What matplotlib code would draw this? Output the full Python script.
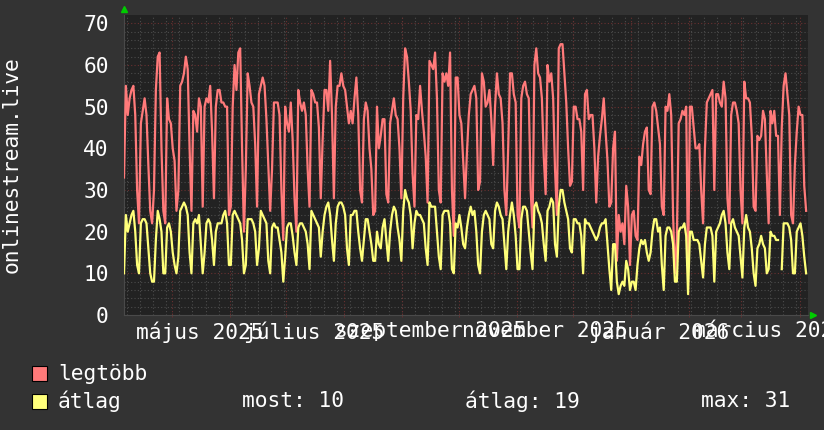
import numpy as np
import matplotlib
matplotlib.use("Agg")
import matplotlib.pyplot as plt
import matplotlib.dates as mdates
from datetime import datetime, timedelta

# daily values (first day 2025-04-05)
legtobb = [
    33, 55, 48, 52, 54, 55, 48, 30, 22, 46, 49, 52, 48, 36, 25, 22, 30, 54, 62, 63,
    40, 25, 22, 52, 47, 46, 40, 37, 25, 30, 55, 56, 58, 62, 59, 40, 25, 49, 48, 44,
    52, 50, 26, 50, 52, 51, 55, 44, 28, 50, 54,
    54, 51, 51, 50, 50, 24, 26, 50, 60, 54, 63, 64, 40, 20, 35, 58, 55, 51, 50, 41,
    26, 53, 55, 57, 55, 47, 36, 25, 35, 51, 51, 51, 48, 30, 18, 50, 46, 44, 51, 42,
    28, 20, 54, 51, 49, 51, 48, 35, 26, 54, 53, 51,
    51, 45, 28, 42, 54, 54, 49, 61, 48, 28, 50, 55, 55, 58, 55, 54, 50, 46, 49, 46,
    52, 57, 48, 30, 27, 47, 51, 49, 40, 35, 24, 25, 50, 40, 43, 47, 47, 29, 27, 46,
    49, 52, 48, 47, 40, 28, 52, 64, 62, 56, 49, 34,
    26, 48, 47, 55, 49, 44, 38, 27, 61, 60, 59, 63, 52, 30, 27, 58, 56, 58, 55, 63,
    30, 19, 57, 57, 48, 46, 37, 28, 39, 48, 53, 54, 55, 52, 30, 32, 58, 56, 50, 51,
    54, 47, 36, 50, 58, 53, 52, 46, 30, 24, 40, 58,
    58, 53, 51, 24, 21, 52, 55, 56, 53, 52, 30, 21, 60, 64, 58, 57, 52, 38, 29, 60,
    56, 58, 52, 35, 24, 64, 65, 65, 58, 51, 40, 31, 32, 50, 50, 47, 47, 44, 30, 53,
    54, 47, 48, 48, 40, 27, 38, 43, 47, 52, 44, 37, 26,
    27, 40, 44, 13, 24, 20, 22, 17, 31, 26, 12, 24, 25, 19, 18, 38, 36, 41, 44, 45,
    30, 29, 50, 51, 49, 45, 41, 26, 24, 50, 49, 53, 48, 24, 10, 18, 46, 47, 49, 48,
    50, 11, 50, 50, 45, 40, 40, 41, 30, 22, 40, 51,
    52, 53, 54, 30, 53, 53, 51, 50, 56, 52, 28, 22, 48, 51, 51, 49, 46, 30, 22, 56,
    52, 52, 51, 43, 26, 25, 43, 42, 43, 49, 47, 34, 22, 49, 46, 49, 43, 43, 24, 45,
    55, 58, 53, 48, 24, 22, 36, 44, 50, 48, 48, 31, 25,
]
atlag = [
    10, 24, 20, 22, 24, 25, 20, 12, 10, 22, 23, 23, 22, 16, 10, 8, 8, 18, 25, 23,
    20, 10, 10, 21, 22, 20, 15, 12, 10, 14, 25, 26, 27, 26, 24, 15, 10, 22, 23, 22,
    24, 17, 10, 15, 22, 23, 22, 18, 12, 20, 22,
    22, 22, 24, 25, 22, 12, 12, 24, 25, 24, 23, 22, 18, 10, 12, 23, 23, 23, 22, 20,
    12, 16, 25, 24, 23, 22, 13, 10, 21, 22, 21, 21, 18, 15, 8, 14, 21, 22, 22, 19,
    15, 12, 21, 22, 22, 21, 20, 17, 11, 25, 24, 23,
    22, 21, 14, 20, 24, 26, 27, 24, 18, 13, 22, 26, 27, 27, 26, 24, 16, 12, 24, 24,
    25, 25, 20, 16, 13, 18, 23, 23, 20, 17, 13, 13, 20, 17, 16, 21, 23, 18, 13, 20,
    24, 26, 25, 21, 18, 13, 25, 30, 28, 27, 24, 16,
    22, 25, 24, 24, 23, 22, 16, 12, 27, 26, 26, 26, 20, 14, 11, 24, 25, 25, 25, 22,
    11, 10, 22, 21, 24, 21, 17, 16, 21, 24, 26, 24, 25, 20, 12, 10, 20, 24, 25, 24,
    23, 17, 16, 25, 27, 26, 24, 23, 17, 11, 20, 24,
    27, 24, 19, 11, 11, 23, 26, 26, 25, 20, 15, 11, 26, 27, 25, 24, 22, 17, 13, 25,
    26, 28, 27, 17, 14, 26, 30, 30, 27, 25, 23, 16, 15, 23, 23, 22, 22, 19, 10, 23,
    22, 22, 21, 20, 19, 18, 19, 21, 22, 22, 23, 17, 11,
    6, 17, 17, 8, 5, 7, 8, 7, 13, 11, 6, 8, 8, 6, 12, 16, 18, 17, 18, 15,
    13, 15, 20, 23, 23, 20, 21, 12, 6, 19, 21, 21, 20, 17, 8, 8, 20, 21, 21, 22,
    19, 5, 20, 20, 18, 18, 18, 17, 13, 9, 17, 21,
    21, 21, 19, 8, 20, 21, 22, 24, 25, 22, 15, 11, 22, 23, 21, 20, 19, 14, 9, 21,
    24, 21, 20, 16, 10, 7, 16, 17, 19, 17, 16, 10, 11, 20, 19, 19, 18, 18, np.nan, 11,
    22, 22, 22, 21, 18, 10, 10, 20, 21, 22, 19, 14, 10,
]
x_labels = ["május 2025", "július 2025", "szeptember 2025",
            "november 2025", "január 2026", "március 2026"]
label_months = [(2025, 5), (2025, 7), (2025, 9), (2025, 11), (2026, 1), (2026, 3)]
most, atlag_avg, atlag_max = 10, 19, 31

start = datetime(2025, 4, 5, 12)
end = start + timedelta(days=365)
days = [start + timedelta(days=i) for i in range(len(legtobb))]

W, H = 824, 430
bg = "#333333"
font = "DejaVu Sans Mono"
fs = 15.3
red = "#ff7a7a"
yellow = "#ffff7a"

fig = plt.figure(figsize=(W / 100, H / 100), dpi=100, facecolor=bg)
ax = fig.add_axes([124 / W, 1 - 315 / H, 684 / W, 300 / H])
ax.set_facecolor("#222222")
ax.set_xlim(start, end)
ax.set_ylim(0, 72)

# grid: weeks / months, 2 and 10 units
minor_c, major_c = "#4c4c4c", "#6a3030"
wk = datetime(2025, 4, 7)
while wk < end:
    ax.axvline(wk, color=minor_c, ls=(0, (1, 2)), lw=0.8, zorder=1)
    wk += timedelta(days=7)
month_starts = []
y, m = 2025, 5
while datetime(y, m, 1) < end:
    month_starts.append(datetime(y, m, 1))
    m += 1
    if m > 12:
        y, m = y + 1, 1
for ms in month_starts:
    ax.axvline(ms, color=major_c, ls=(0, (1, 2)), lw=0.8, zorder=1.5)
for v in range(2, 72, 2):
    c = major_c if v % 10 == 0 else minor_c
    ax.axhline(v, color=c, ls=(0, (1, 2)), lw=0.8, zorder=1)

ax.plot(days, legtobb, color=red, lw=1.6, zorder=3)
ax.plot(days, atlag, color=yellow, lw=1.6, zorder=4)

for s in ["top", "right"]:
    ax.spines[s].set_visible(False)
for s in ["left", "bottom"]:
    ax.spines[s].set_color("#4a4a4a")

ax.set_yticks(range(0, 71, 10))
ax.tick_params(axis="y", length=0, pad=11, labelsize=fs, labelcolor="white")
ax.set_xticks([datetime(yy, mm, 16) for yy, mm in label_months])
ax.set_xticklabels(x_labels)
ax.set_xticks(month_starts, minor=True)
ax.tick_params(axis="x", which="major", length=0, pad=4.5, labelsize=fs, labelcolor="white")
ax.tick_params(axis="x", which="minor", length=3, direction="inout", color="#6a3030")
for lab in ax.get_xticklabels() + ax.get_yticklabels():
    lab.set_fontfamily(font)

# arrows at the end of the axes
ax.plot([0], [1.02], marker="^", color="#00cc00", ms=5, transform=ax.transAxes, clip_on=False)
ax.plot([1.008], [0], marker=">", color="#00cc00", ms=5, transform=ax.transAxes, clip_on=False)

fig.text(12 / W, 1 - 165 / H, "onlinestream.live", rotation=90, ha="center", va="center",
         color="white", fontsize=fs, fontfamily=font)

# legend
for yc, col, name in [(373.5, red, "legtöbb"), (401, yellow, "átlag")]:
    fig.patches.append(plt.Rectangle((32 / W, 1 - (yc + 7.5) / H), 15 / W, 15 / H,
                                     transform=fig.transFigure, facecolor=col,
                                     edgecolor="black", lw=0.8))
    fig.text(58 / W, 1 - yc / H, name, ha="left", va="center", color="white",
             fontsize=fs, fontfamily=font)
fig.text(242 / W, 1 - 401 / H, f"most: {most}", ha="left", va="center", color="white",
         fontsize=fs, fontfamily=font)
fig.text(465 / W, 1 - 401 / H, f"átlag: {atlag_avg}", ha="left", va="center", color="white",
         fontsize=fs, fontfamily=font)
fig.text(701 / W, 1 - 401 / H, f"max: {atlag_max}", ha="left", va="center", color="white",
         fontsize=fs, fontfamily=font)

fig.savefig("out.png", dpi=100, facecolor=bg)
